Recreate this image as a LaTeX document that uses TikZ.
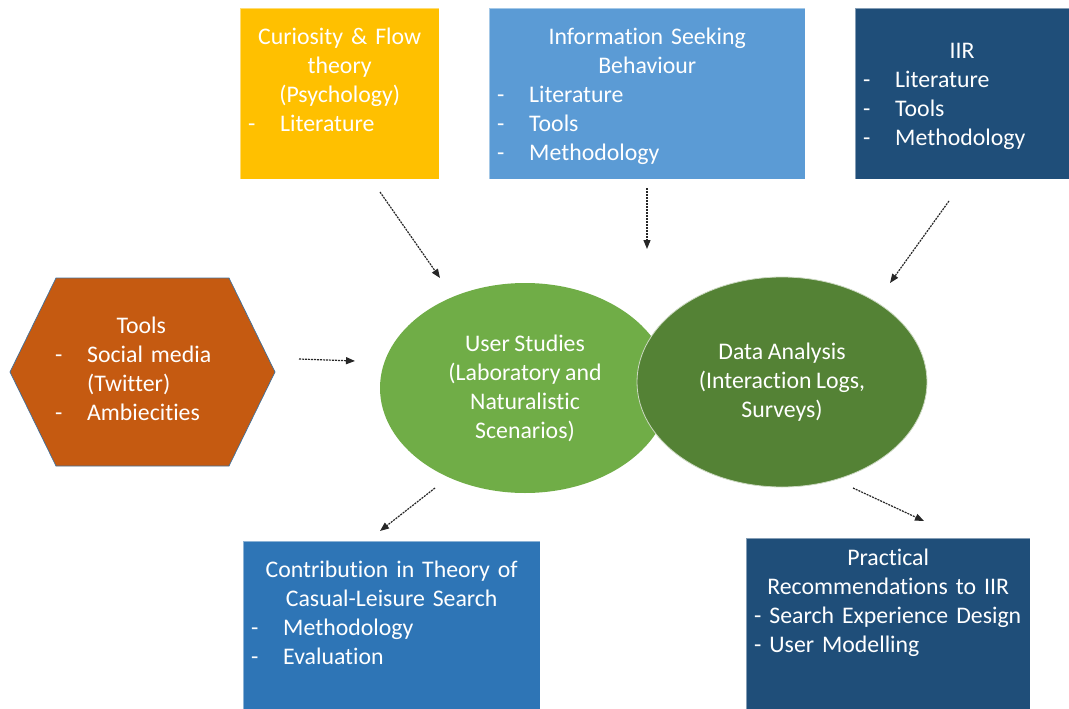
\documentclass[tikz,border=0pt]{standalone}
\usepackage{fontspec}
\setmainfont{Carlito}[Ligatures=NoCommon, WordSpace=0.85]
\usetikzlibrary{arrows.meta,shapes.geometric,calc}

\definecolor{curyellow}{HTML}{FFC000}
\definecolor{isbblue}{HTML}{5B9BD5}
\definecolor{iirnavy}{HTML}{1F4E79}
\definecolor{toolorange}{HTML}{C55A11}
\definecolor{usergreen}{HTML}{70AD47}
\definecolor{datagreen}{HTML}{548235}
\definecolor{contrblue}{HTML}{2E75B6}
\definecolor{edgeblue}{HTML}{41719C}

\newcommand{\boxtitle}[1]{\makebox[\linewidth][c]{#1}}
\newcommand{\dashitem}[1]{\makebox[32pt][l]{-}#1}

\begin{document}
\begin{tikzpicture}[
  x=1pt, y=-1pt,
  txt/.style={text=white, font=\fontsize{23.8}{29}\selectfont},
  box/.style={rectangle, draw=white, draw opacity=0.45, line width=0.8pt, inner sep=0pt, anchor=north west},
  boxtxt/.style={txt, inner sep=0pt, align=left, anchor=base west},
  blob/.style={ellipse, txt, align=center, inner sep=0pt, minimum width=290pt, minimum height=210pt},
  flow/.style={-{Triangle[length=9pt,width=7pt]}, line width=1.2pt, dash pattern=on 2pt off 1pt, black!85}
]
\useasboundingbox (0,0) rectangle (1069,709);

% Sources
\node[box, fill=curyellow, minimum width=199pt, minimum height=171pt] (cur) at (240,8) {};
\node[boxtxt, text width=183pt] (curtxt) at ($(cur.north west)+(8,37)$)
  {\boxtitle{Curiosity \& Flow}\\ \boxtitle{theory}\\ \boxtitle{(Psychology)}\\ \dashitem{Literature}};

\node[box, fill=isbblue, minimum width=316pt, minimum height=171pt] (isb) at (489,8) {};
\node[boxtxt, text width=300pt] (isbtxt) at ($(isb.north west)+(8,37)$)
  {\boxtitle{Information Seeking}\\ \boxtitle{Behaviour}\\ \dashitem{Literature}\\ \dashitem{Tools}\\ \dashitem{Methodology}};

\node[box, fill=iirnavy, minimum width=220pt, minimum height=171pt] (iir) at (855,8) {};
\node[boxtxt, text width=198pt] (iirtxt) at ($(iir.north west)+(8,51)$)
  {\boxtitle{IIR}\\ \dashitem{Literature}\\ \dashitem{Tools}\\ \dashitem{Methodology}};

\filldraw[fill=toolorange, draw=edgeblue, line width=0.7pt]
  (10,372) -- (56,278) -- (229,278) -- (275,372) -- (229,466) -- (56,466) -- cycle;
\node[boxtxt, text width=172pt] (tooltxt) at (55,333)
  {\boxtitle{Tools}\\ \dashitem{Social media}\\ \hspace*{32pt}(Twitter)\\ \dashitem{Ambiecities}};

% Studies and analysis
\node[blob, fill=usergreen] (user) at (525,388)
  {User Studies\\(Laboratory and\\Naturalistic\\Scenarios)};
\node[blob, fill=datagreen, draw=white!70!datagreen, line width=0.8pt] (data) at (782,382)
  {Data Analysis\\(Interaction Logs,\\Surveys)};

% Outcomes
\node[box, fill=contrblue, minimum width=297pt, minimum height=175pt] (contr) at (243,541) {};
\node[boxtxt, text width=281pt] (contrtxt) at ($(contr.north west)+(8,36)$)
  {\boxtitle{Contribution in Theory of}\\ \boxtitle{Casual-Leisure Search}\\ \dashitem{Methodology}\\ \dashitem{Evaluation}};

\node[box, fill=iirnavy, minimum width=284pt, minimum height=175pt] (prac) at (746,538) {};
\node[boxtxt, text width=268pt] (practxt) at ($(prac.north west)+(8,27)$)
  {\boxtitle{Practical}\\ \boxtitle{Recommendations to IIR}\\ \mbox{- Search Experience Design}\\ - User Modelling};

% Arrow ends
\coordinate (curtail) at (380,192);
\coordinate (curhead) at (440,278);
\coordinate (isbtail) at (647,188);
\coordinate (isbhead) at (647,249);
\coordinate (iirtail) at (949,201);
\coordinate (iirhead) at (890,283);
\coordinate (tooltail) at (299,359);
\coordinate (toolhead) at (355,361);
\coordinate (usertail) at (435,488);
\coordinate (contrhead) at (380,531);
\coordinate (datatail) at (853,488);
\coordinate (prachead) at (924,521);

\draw[flow] (curtail) -- (curhead);
\draw[flow] (isbtail) -- (isbhead);
\draw[flow] (iirtail) -- (iirhead);
\draw[flow] (tooltail) -- (toolhead);
\draw[flow] (usertail) -- (contrhead);
\draw[flow] (datatail) -- (prachead);

\end{tikzpicture}
\end{document}
